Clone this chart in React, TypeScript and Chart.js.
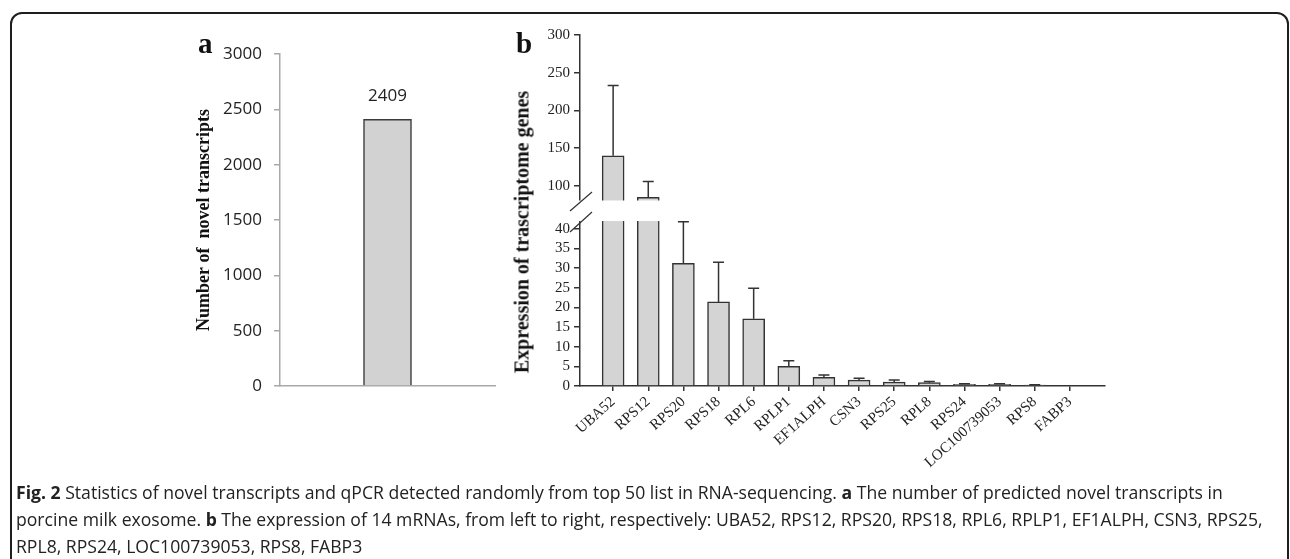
import React, { useEffect, useRef } from 'react';
import { Chart, registerables } from 'chart.js';

Chart.register(...registerables);

// ---------- Panel a data ----------
const novelCategories = ['Novel transcripts'];
const novelCounts = [2409];
const novelTicks = [0, 500, 1000, 1500, 2000, 2500, 3000];

// ---------- Panel b data ----------
const genes = ['UBA52', 'RPS12', 'RPS20', 'RPS18', 'RPL6', 'RPLP1', 'EF1ALPH', 'CSN3', 'RPS25', 'RPL8', 'RPS24', 'LOC100739053', 'RPS8', 'FABP3'];
const expression = [140, 85, 31.2, 21.4, 17.1, 5.0, 2.2, 1.5, 1.0, 0.85, 0.43, 0.4, 0.25, 0];
const expressionErr = [93, 21, 10.6, 10.1, 7.8, 1.4, 0.6, 0.5, 0.5, 0.3, 0.17, 0.15, 0.1, 0];
const upperTicks = [100, 150, 200, 250, 300];
const lowerTicks = [0, 5, 10, 15, 20, 25, 30, 35, 40];

// axis break settings
const UPPER_MIN = 80;
const UPPER_MAX = 300;
const BREAK_LOW = 42;
const LOWER_MAX = 47.1;

const SERIF = '"Liberation Serif", "Times New Roman", Times, serif';
const SANS = '"Open Sans", "Noto Sans", sans-serif';

const barLabelPlugin = {
  id: 'barLabel',
  afterDatasetsDraw(chart: any) {
    const ctx = chart.ctx;
    const meta = chart.getDatasetMeta(0);
    meta.data.forEach((el: any, i: number) => {
      ctx.save();
      ctx.font = `17px ${SANS}`;
      ctx.fillStyle = '#222';
      ctx.textAlign = 'center';
      ctx.textBaseline = 'middle';
      ctx.fillText(String(novelCounts[i]), el.x, el.y - 23);
      ctx.restore();
    });
  },
};

const breakPlugin = {
  id: 'breakAndErrors',
  afterDatasetsDraw(chart: any) {
    const { ctx, chartArea, scales } = chart;
    const x = scales.x;
    const yT = scales.yTop;
    const yB = scales.yBot;
    const bandTop = yT.getPixelForValue(UPPER_MIN);
    const bandBot = yB.getPixelForValue(BREAK_LOW);
    ctx.save();
    ctx.fillStyle = '#ffffff';
    ctx.fillRect(chartArea.left - 3, bandTop - 0.5, chartArea.right - chartArea.left + 3, bandBot - bandTop + 0.5);

    const py = (v: number) => (v > BREAK_LOW ? yT.getPixelForValue(v) : yB.getPixelForValue(v));
    ctx.strokeStyle = '#333';
    ctx.lineWidth = 1.5;
    expression.forEach((v, i) => {
      const e = expressionErr[i];
      if (!e) return;
      const cx = x.getPixelForValue(i);
      const y0 = py(v);
      const y1 = py(v + e);
      ctx.beginPath();
      ctx.moveTo(cx, y0);
      ctx.lineTo(cx, y1);
      ctx.moveTo(cx - 5.5, y1);
      ctx.lineTo(cx + 5.5, y1);
      ctx.stroke();
    });

    const L = chartArea.left;
    ctx.lineWidth = 1.2;
    ctx.beginPath();
    ctx.moveTo(L - 10, bandTop + 10);
    ctx.lineTo(L + 12, bandTop - 9);
    ctx.moveTo(L - 10, bandBot + 11);
    ctx.lineTo(L + 12, bandBot - 9);
    ctx.stroke();
    ctx.restore();
  },
};

export default function App() {
  const aRef = useRef<HTMLCanvasElement>(null);
  const bRef = useRef<HTMLCanvasElement>(null);

  useEffect(() => {
    const chartA = new Chart(aRef.current as HTMLCanvasElement, {
      type: 'bar',
      data: {
        labels: novelCategories,
        datasets: [
          {
            data: novelCounts,
            backgroundColor: '#d2d2d2',
            borderColor: '#3a3a3a',
            borderWidth: 1.5,
            borderSkipped: 'bottom',
            barThickness: 48,
          },
        ],
      },
      options: {
        responsive: false,
        animation: false,
        devicePixelRatio: 1,
        layout: { padding: { left: 0, right: 15, top: 34, bottom: 24 } },
        plugins: { legend: { display: false }, tooltip: { enabled: false } },
        scales: {
          x: {
            grid: { display: false, drawTicks: false },
            ticks: { display: false },
            border: { color: '#a8a8a8', width: 1.5 },
            afterFit: (s: any) => {
              s.height = 0;
            },
          },
          y: {
            min: 0,
            max: 3000,
            afterBuildTicks: (s: any) => {
              s.ticks = novelTicks.map((v) => ({ value: v }));
            },
            ticks: {
              font: { family: SANS, size: 17 },
              color: '#222',
              padding: 12,
              autoSkip: false,
              callback: (v: any) => String(v),
            },
            grid: { drawOnChartArea: false, tickLength: 6, color: '#a8a8a8', lineWidth: 1.5 },
            border: { color: '#a8a8a8', width: 1.5 },
            title: {
              display: true,
              text: 'Number of  novel transcripts',
              font: { family: SERIF, size: 18, weight: 'bold' },
              color: '#111',
              padding: { top: 44, bottom: 0 },
            },
            afterFit: (s: any) => {
              s.width = 130;
            },
          },
        },
      },
      plugins: [barLabelPlugin],
    } as any);

    const lowData = expression.map((v, i) => ({ x: i, y: Math.min(v, LOWER_MAX) }));
    const topData = expression
      .map((v, i) => ({ x: i, y: [UPPER_MIN, v] }))
      .filter((d) => (d.y[1] as number) > UPPER_MIN);

    const barStyle = {
      backgroundColor: '#d4d4d4',
      borderColor: '#333',
      borderWidth: 1.5,
      borderSkipped: 'bottom',
      barThickness: 22,
      grouped: false,
    };

    const yTickOpts = {
      font: { family: SERIF, size: 15 },
      color: '#222',
      padding: 4,
      autoSkip: false,
      callback: (v: any) => String(v),
    };

    const chartB = new Chart(bRef.current as HTMLCanvasElement, {
      type: 'bar',
      data: {
        datasets: [
          { ...barStyle, data: lowData, yAxisID: 'yBot', xAxisID: 'x' },
          { ...barStyle, data: topData, yAxisID: 'yTop', xAxisID: 'x' },
        ],
      },
      options: {
        responsive: false,
        animation: false,
        devicePixelRatio: 1,
        layout: { padding: { left: 0, right: 25, top: 25, bottom: 0 } },
        plugins: { legend: { display: false }, tooltip: { enabled: false } },
        scales: {
          x: {
            type: 'linear',
            offset: false,
            min: -0.943,
            max: 14,
            afterBuildTicks: (s: any) => {
              s.ticks = genes.map((_, i) => ({ value: i }));
            },
            ticks: {
              autoSkip: false,
              minRotation: 42,
              maxRotation: 42,
              padding: 2,
              color: '#222',
              font: { family: SERIF, size: 15 },
              callback: (v: any) => genes[v],
            },
            grid: { offset: false, drawOnChartArea: false, tickLength: 5, color: '#333', lineWidth: 1.5 },
            border: { color: '#333', width: 1.5 },
            afterFit: (s: any) => {
              s.height = 94;
            },
          },
          yBot: {
            type: 'linear',
            position: 'left',
            stack: 'b',
            stackWeight: 185,
            min: 0,
            max: LOWER_MAX,
            afterBuildTicks: (s: any) => {
              s.ticks = lowerTicks.map((v) => ({ value: v }));
            },
            ticks: yTickOpts,
            grid: { drawOnChartArea: false, tickLength: 6, color: '#333', lineWidth: 1.5 },
            border: { color: '#333', width: 1.5 },
            afterFit: (s: any) => {
              s.width = 140;
            },
          },
          yTop: {
            type: 'linear',
            position: 'left',
            stack: 'b',
            stackWeight: 166,
            min: UPPER_MIN,
            max: UPPER_MAX,
            afterBuildTicks: (s: any) => {
              s.ticks = upperTicks.map((v) => ({ value: v }));
            },
            ticks: yTickOpts,
            grid: { drawOnChartArea: false, tickLength: 6, color: '#333', lineWidth: 1.5 },
            border: { color: '#333', width: 1.5 },
            afterFit: (s: any) => {
              s.width = 140;
            },
          },
        },
      },
      plugins: [breakPlugin],
    } as any);

    return () => {
      chartA.destroy();
      chartB.destroy();
    };
  }, []);

  const panelLetter: React.CSSProperties = {
    position: 'absolute',
    fontFamily: SERIF,
    fontWeight: 'bold',
    fontSize: 29,
    lineHeight: '29px',
    color: '#111',
  };

  return (
    <div
      style={{
        position: 'absolute',
        left: 0,
        top: 0,
        width: 1290,
        height: 559,
        overflow: 'hidden',
        background: '#fff',
      }}
    >
      <div
        style={{
          position: 'absolute',
          left: 10,
          top: 12,
          width: 1279,
          height: 700,
          border: '2px solid #1e1e1e',
          borderRadius: 12,
          boxSizing: 'border-box',
        }}
      />
      <canvas ref={aRef} width={360} height={390} style={{ position: 'absolute', left: 150, top: 20 }} />
      <canvas ref={bRef} width={690} height={470} style={{ position: 'absolute', left: 440, top: 10 }} />
      <span style={{ ...panelLetter, left: 198, top: 29 }}>a</span>
      <span style={{ ...panelLetter, left: 516, top: 29 }}>b</span>
      <div
        style={{
          position: 'absolute',
          left: 522,
          top: 232,
          transform: 'translate(-50%, -50%) rotate(-90deg)',
          whiteSpace: 'nowrap',
          fontFamily: SERIF,
          fontWeight: 'bold',
          fontSize: 20,
          color: '#111',
        }}
      >
        Expression of trascriptome genes
      </div>
      <div
        style={{
          position: 'absolute',
          left: 16,
          top: 479,
          fontFamily: SANS,
          fontSize: 17.6,
          lineHeight: '27px',
          color: '#222',
          whiteSpace: 'nowrap',
        }}
      >
        <div>
          <b>Fig. 2</b> Statistics of novel transcripts and qPCR detected randomly from top 50 list in RNA-sequencing. <b>a</b> The number of predicted novel transcripts in
        </div>
        <div>
          porcine milk exosome. <b>b</b> The expression of 14 mRNAs, from left to right, respectively: UBA52, RPS12, RPS20, RPS18, RPL6, RPLP1, EF1ALPH, CSN3, RPS25,
        </div>
        <div>RPL8, RPS24, LOC100739053, RPS8, FABP3</div>
      </div>
    </div>
  );
}
